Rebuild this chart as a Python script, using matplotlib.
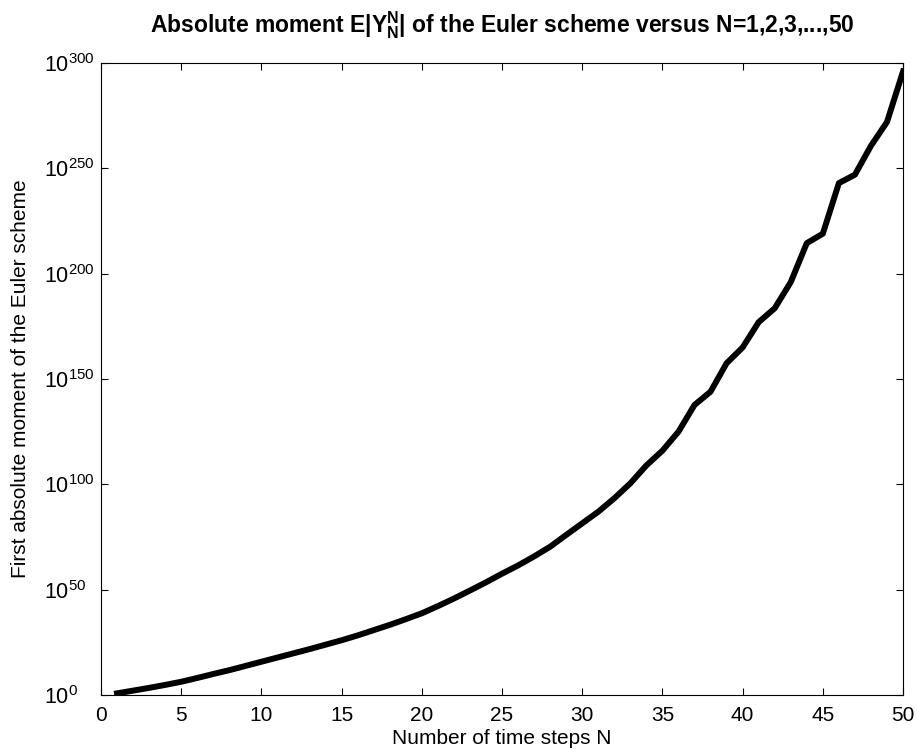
import numpy as np
import matplotlib
matplotlib.use("Agg")
import matplotlib.pyplot as plt

# Number of time steps
steps = list(range(1, 51))

# log10 of the absolute moment E|Y_N^N|
log_moment = [0.8, 2.1, 3.4, 4.8, 6.3, 8.1, 10.0, 11.8, 13.8, 15.8,
              17.8, 19.8, 21.8, 23.9, 26.0, 28.3, 30.8, 33.3, 36.0, 38.8,
              42.2, 45.8, 49.6, 53.5, 57.6, 61.5, 65.8, 70.4, 76.0, 81.5,
              87.0, 93.4, 100.5, 109.0, 116.0, 125.0, 137.7, 144.0, 157.5, 165.0,
              177.0, 183.6, 196.0, 214.5, 219.0, 243.0, 247.0, 260.7, 272.0, 296.0]

x_ticks = [0, 5, 10, 15, 20, 25, 30, 35, 40, 45, 50]
y_exponents = [0, 50, 100, 150, 200, 250, 300]

plt.rcParams['font.family'] = ['Liberation Sans', 'DejaVu Sans']
plt.rcParams['mathtext.fontset'] = 'custom'
plt.rcParams['mathtext.rm'] = 'Liberation Sans'
plt.rcParams['mathtext.it'] = 'Liberation Sans'
plt.rcParams['mathtext.bf'] = 'Liberation Sans:bold'

moment = [10.0 ** v for v in log_moment]

fig = plt.figure(figsize=(9.18, 7.54), dpi=100)
ax = fig.add_axes([0.110, 0.0782, 0.8737, 0.8382])
ax.plot(steps, moment, color='black', linewidth=4.3)
ax.set_yscale('log')
ax.set_xlim(0, 50)
ax.set_ylim(1.0, 1e300)

ax.set_xticks(x_ticks)
ax.set_xticklabels([str(t) for t in x_ticks])
ax.set_yticks([10.0 ** e for e in y_exponents])
ax.set_yticklabels([r'$10^{%d}$' % e for e in y_exponents])
ax.minorticks_off()
ax.tick_params(direction='in', top=True, right=True, length=5)
ax.tick_params(axis='x', labelsize=15, pad=8)
ax.tick_params(axis='y', labelsize=15.5, pad=41)
for lab in ax.get_yticklabels():
    lab.set_horizontalalignment('left')

ax.set_xlabel('Number of time steps N', fontsize=15, labelpad=3)
ax.set_ylabel('First absolute moment of the Euler scheme', fontsize=15, labelpad=10)
ax.set_title(r'Absolute moment E|$\mathbf{Y^N_N}$| of the Euler scheme versus N=1,2,3,...,50',
             fontsize=16.5, fontweight='bold', pad=22)

fig.savefig('out.png', dpi=100)
